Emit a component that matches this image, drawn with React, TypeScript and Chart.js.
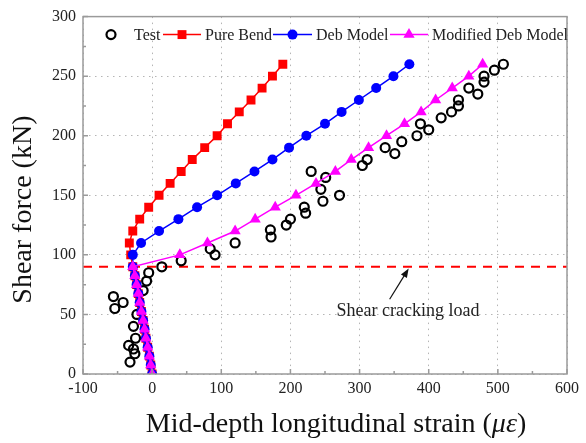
import React, { useEffect, useRef } from 'react';
import { Chart, registerables } from 'chart.js';

Chart.register(...registerables);

// ---------- data ----------
const testX = [-32, -25, -27, -34, -24, -27, -22, -54, -42, -56, -13, -8, -5, 14, 42, 91, 84, 120, 172, 171, 194, 200, 222, 220, 247, 271, 244, 251, 230, 304, 311, 351, 337, 361, 383, 400, 388, 418, 433, 443, 443, 471, 458, 480, 480, 495, 508];
const testY = [10, 17, 21, 24, 30, 40, 50, 55, 60, 65, 70, 78, 85, 90, 95, 100, 105, 110, 115, 121, 125, 130, 135, 140, 145, 150, 155, 165, 170, 175, 180, 185, 190, 195, 200, 205, 210, 215, 220, 225, 230, 235, 240, 245, 250, 255, 260];

const preCrackY = [0, 7.5, 15, 22.5, 30, 37.5, 45, 52.5, 60, 67.5, 75, 82.5, 90];
const preCrackX = [0, -2, -4, -6.5, -9, -11, -13, -15.5, -18, -20, -22.5, -25, -28];

const pureBendY = [100, 110, 120, 130, 140, 150, 160, 170, 180, 190, 200, 210, 220, 230, 240, 250, 260];
const pureBendX = [-31, -33, -28, -18, -5, 10, 26, 42, 58, 76, 94, 109, 126, 143, 159, 174, 189];

const debY = [100, 110, 120, 130, 140, 150, 160, 170, 180, 190, 200, 210, 220, 230, 240, 250, 260];
const debX = [-28, -16, 10, 38, 65, 94, 121, 148, 174, 198, 223, 250, 274, 299, 324, 349, 372];

const modDebY = [100, 110, 120, 130, 140, 150, 160, 170, 180, 190, 200, 210, 220, 230, 240, 250, 260];
const modDebX = [40, 80, 120, 149, 178, 208, 237, 265, 288, 313, 339, 365, 389, 410, 434, 458, 478];

const crackLoad = 90;
const crackX = [-100, 600];

const xRange = [-100, 600];
const yRange = [0, 300];
const xStep = 100;
const yStep = 50;

const annotationText = 'Shear cracking load';
const annotationTextPos = { x: 370, y: 52.6 };
const arrowTail = { x: 343.5, y: 62.7 };
const arrowHead = { x: 371, y: 88.5 };

const seriesNames = ['Test', 'Pure Bend', 'Deb Model', 'Modified Deb Model'];

const FONT = '"Liberation Serif", "Times New Roman", serif';
const RED = '#ff0000';
const BLUE = '#0000ff';
const MAG = '#ff00ff';

const pts = (xs: number[], ys: number[]) => xs.map((v, i) => ({ x: v, y: ys[i] }));

function drawMarker(ctx: CanvasRenderingContext2D, kind: string, x: number, y: number, color: string) {
  ctx.save();
  if (kind === 'open') {
    ctx.beginPath();
    ctx.arc(x, y, 4.5, 0, Math.PI * 2);
    ctx.lineWidth = 2.2;
    ctx.strokeStyle = '#000';
    ctx.stroke();
  } else if (kind === 'rect') {
    const s = 6.3 * Math.SQRT1_2;
    ctx.fillStyle = color;
    ctx.fillRect(x - s, y - s, 2 * s, 2 * s);
  } else if (kind === 'circle') {
    ctx.beginPath();
    ctx.arc(x, y, 5, 0, Math.PI * 2);
    ctx.fillStyle = color;
    ctx.fill();
  } else if (kind === 'triangle') {
    const r = 6.5;
    ctx.beginPath();
    ctx.moveTo(x, y - r);
    ctx.lineTo(x + r * Math.sin((2 * Math.PI) / 3), y - r * Math.cos((2 * Math.PI) / 3));
    ctx.lineTo(x + r * Math.sin((4 * Math.PI) / 3), y - r * Math.cos((4 * Math.PI) / 3));
    ctx.closePath();
    ctx.fillStyle = color;
    ctx.fill();
  }
  ctx.restore();
}

const overlay = {
  id: 'overlay',
  afterDraw(chart: any) {
    const { ctx, chartArea: a, scales } = chart;
    const xs = scales.x;
    const ys = scales.y;
    ctx.save();

    // frame
    ctx.strokeStyle = '#9a9a9a';
    ctx.lineWidth = 1.5;
    ctx.strokeRect(a.left, a.top, a.right - a.left, a.bottom - a.top);

    // inward ticks (major + minor)
    ctx.beginPath();
    for (let v = xRange[0]; v <= xRange[1]; v += xStep / 2) {
      const px = xs.getPixelForValue(v);
      const len = Math.abs(v % xStep) < 1e-6 ? 5 : 3;
      ctx.moveTo(px, a.bottom);
      ctx.lineTo(px, a.bottom - len);
    }
    for (let v = yRange[0]; v <= yRange[1]; v += yStep / 2) {
      const py = ys.getPixelForValue(v);
      const len = Math.abs(v % yStep) < 1e-6 ? 5 : 3;
      ctx.moveTo(a.left, py);
      ctx.lineTo(a.left + len, py);
    }
    ctx.stroke();

    // legend
    const ly = a.top + 18;
    const L = a.left;
    ctx.font = `16px ${FONT}`;
    ctx.fillStyle = '#222';
    ctx.textBaseline = 'middle';
    ctx.textAlign = 'left';
    drawMarker(ctx, 'open', L + 28, ly, '#000');
    ctx.fillText(seriesNames[0], L + 51, ly + 1);
    const items = [
      { c: RED, k: 'rect', x0: 80, x1: 118, t: 122 },
      { c: BLUE, k: 'circle', x0: 190, x1: 229, t: 233 },
      { c: MAG, k: 'triangle', x0: 307, x1: 345, t: 349 },
    ];
    items.forEach((it, i) => {
      ctx.strokeStyle = it.c;
      ctx.lineWidth = 1.5;
      ctx.beginPath();
      ctx.moveTo(L + it.x0, ly);
      ctx.lineTo(L + it.x1, ly);
      ctx.stroke();
      drawMarker(ctx, it.k, L + (it.x0 + it.x1) / 2, ly, it.c);
      ctx.fillStyle = '#222';
      ctx.fillText(seriesNames[i + 1], L + it.t, ly + 1);
    });

    // annotation arrow
    const tx = xs.getPixelForValue(arrowTail.x);
    const ty = ys.getPixelForValue(arrowTail.y);
    const hx = xs.getPixelForValue(arrowHead.x);
    const hy = ys.getPixelForValue(arrowHead.y);
    const ang = Math.atan2(hy - ty, hx - tx);
    const al = 9;
    const aw = 3.5;
    ctx.strokeStyle = '#111';
    ctx.lineWidth = 1.2;
    ctx.beginPath();
    ctx.moveTo(tx, ty);
    ctx.lineTo(hx - Math.cos(ang) * al * 0.8, hy - Math.sin(ang) * al * 0.8);
    ctx.stroke();
    ctx.fillStyle = '#111';
    ctx.beginPath();
    ctx.moveTo(hx, hy);
    ctx.lineTo(hx - Math.cos(ang) * al - Math.sin(ang) * aw, hy - Math.sin(ang) * al + Math.cos(ang) * aw);
    ctx.lineTo(hx - Math.cos(ang) * al + Math.sin(ang) * aw, hy - Math.sin(ang) * al - Math.cos(ang) * aw);
    ctx.closePath();
    ctx.fill();

    ctx.font = `18px ${FONT}`;
    ctx.fillStyle = '#222';
    ctx.textAlign = 'center';
    ctx.fillText(annotationText, xs.getPixelForValue(annotationTextPos.x), ys.getPixelForValue(annotationTextPos.y));

    // axis titles
    ctx.fillStyle = '#111';
    ctx.textBaseline = 'middle';
    // y title
    ctx.save();
    ctx.translate(24, a.top + 193);
    ctx.rotate(-Math.PI / 2);
    ctx.font = `28px ${FONT}`;
    ctx.textAlign = 'center';
    ctx.fillText('Shear force (kN)', 0, 0);
    ctx.restore();
    // x title with italic part
    const p1 = 'Mid-depth longitudinal strain (';
    const p2 = 'με';
    const p3 = ')';
    ctx.font = `28px ${FONT}`;
    const w1 = ctx.measureText(p1).width;
    const w3 = ctx.measureText(p3).width;
    ctx.font = `italic 28px ${FONT}`;
    const w2 = ctx.measureText(p2).width;
    const total = w1 + w2 + w3;
    const cx = a.left + 253;
    const cy = a.bottom + 51;
    let sx = cx - total / 2;
    ctx.textAlign = 'left';
    ctx.font = `28px ${FONT}`;
    ctx.fillText(p1, sx, cy);
    sx += w1;
    ctx.font = `italic 28px ${FONT}`;
    ctx.fillText(p2, sx, cy);
    sx += w2;
    ctx.font = `28px ${FONT}`;
    ctx.fillText(p3, sx, cy);

    ctx.restore();
  },
};

export default function App() {
  const ref = useRef<HTMLCanvasElement | null>(null);

  useEffect(() => {
    if (!ref.current) return;
    const chart = new Chart(ref.current, {
      type: 'scatter',
      data: {
        datasets: [
          {
            label: seriesNames[3],
            data: pts([...preCrackX, ...modDebX], [...preCrackY, ...modDebY]),
            showLine: true,
            borderColor: MAG,
            backgroundColor: MAG,
            borderWidth: 1.5,
            pointStyle: 'triangle',
            pointRadius: 6.5,
            pointBorderWidth: 0,
            order: 0,
            clip: 0,
          },
          {
            label: seriesNames[2],
            data: pts([...preCrackX, ...debX], [...preCrackY, ...debY]),
            showLine: true,
            borderColor: BLUE,
            backgroundColor: BLUE,
            borderWidth: 1.5,
            pointStyle: 'circle',
            pointRadius: 5,
            pointBorderWidth: 0,
            order: 1,
            clip: 0,
          },
          {
            label: seriesNames[1],
            data: pts([...preCrackX, ...pureBendX], [...preCrackY, ...pureBendY]),
            showLine: true,
            borderColor: RED,
            backgroundColor: RED,
            borderWidth: 1.5,
            pointStyle: 'rect',
            pointRadius: 6.3,
            pointBorderWidth: 0,
            order: 2,
            clip: 0,
          },
          {
            label: seriesNames[0],
            data: pts(testX, testY),
            showLine: false,
            borderColor: '#000',
            backgroundColor: 'rgba(0,0,0,0)',
            pointStyle: 'circle',
            pointRadius: 4.5,
            pointBorderWidth: 2.2,
            order: 3,
            clip: 0,
          },
          {
            label: 'crack',
            data: pts(crackX, [crackLoad, crackLoad]),
            showLine: true,
            borderColor: RED,
            borderWidth: 2,
            borderDash: [9, 7],
            pointRadius: 0,
            order: 4,
          },
        ],
      },
      options: {
        animation: false,
        responsive: false,
        devicePixelRatio: 1,
        layout: { padding: { left: 0, right: 19, top: 15, bottom: 0 } },
        plugins: {
          legend: { display: false },
          tooltip: { enabled: false },
        },
        scales: {
          x: {
            type: 'linear',
            min: xRange[0],
            max: xRange[1],
            afterFit: (s: any) => {
              s.height = 69;
            },
            ticks: {
              stepSize: xStep,
              padding: 5,
              color: '#222',
              font: { family: FONT, size: 16 },
            },
            grid: { color: '#b5b5b5', lineWidth: 1, drawTicks: false },
            border: { display: false, dash: [1.5, 4.5] },
          },
          y: {
            type: 'linear',
            min: yRange[0],
            max: yRange[1],
            afterFit: (s: any) => {
              s.width = 83;
            },
            ticks: {
              stepSize: yStep,
              padding: 7,
              color: '#222',
              font: { family: FONT, size: 16 },
            },
            grid: { color: '#b5b5b5', lineWidth: 1, drawTicks: false },
            border: { display: false, dash: [1.5, 4.5] },
          },
        },
      },
      plugins: [overlay],
    });
    return () => chart.destroy();
  }, []);

  return (
    <div style={{ position: 'fixed', left: 0, top: 0, width: 586, height: 443, background: '#fff' }}>
      <canvas ref={ref} width={586} height={443} />
    </div>
  );
}
